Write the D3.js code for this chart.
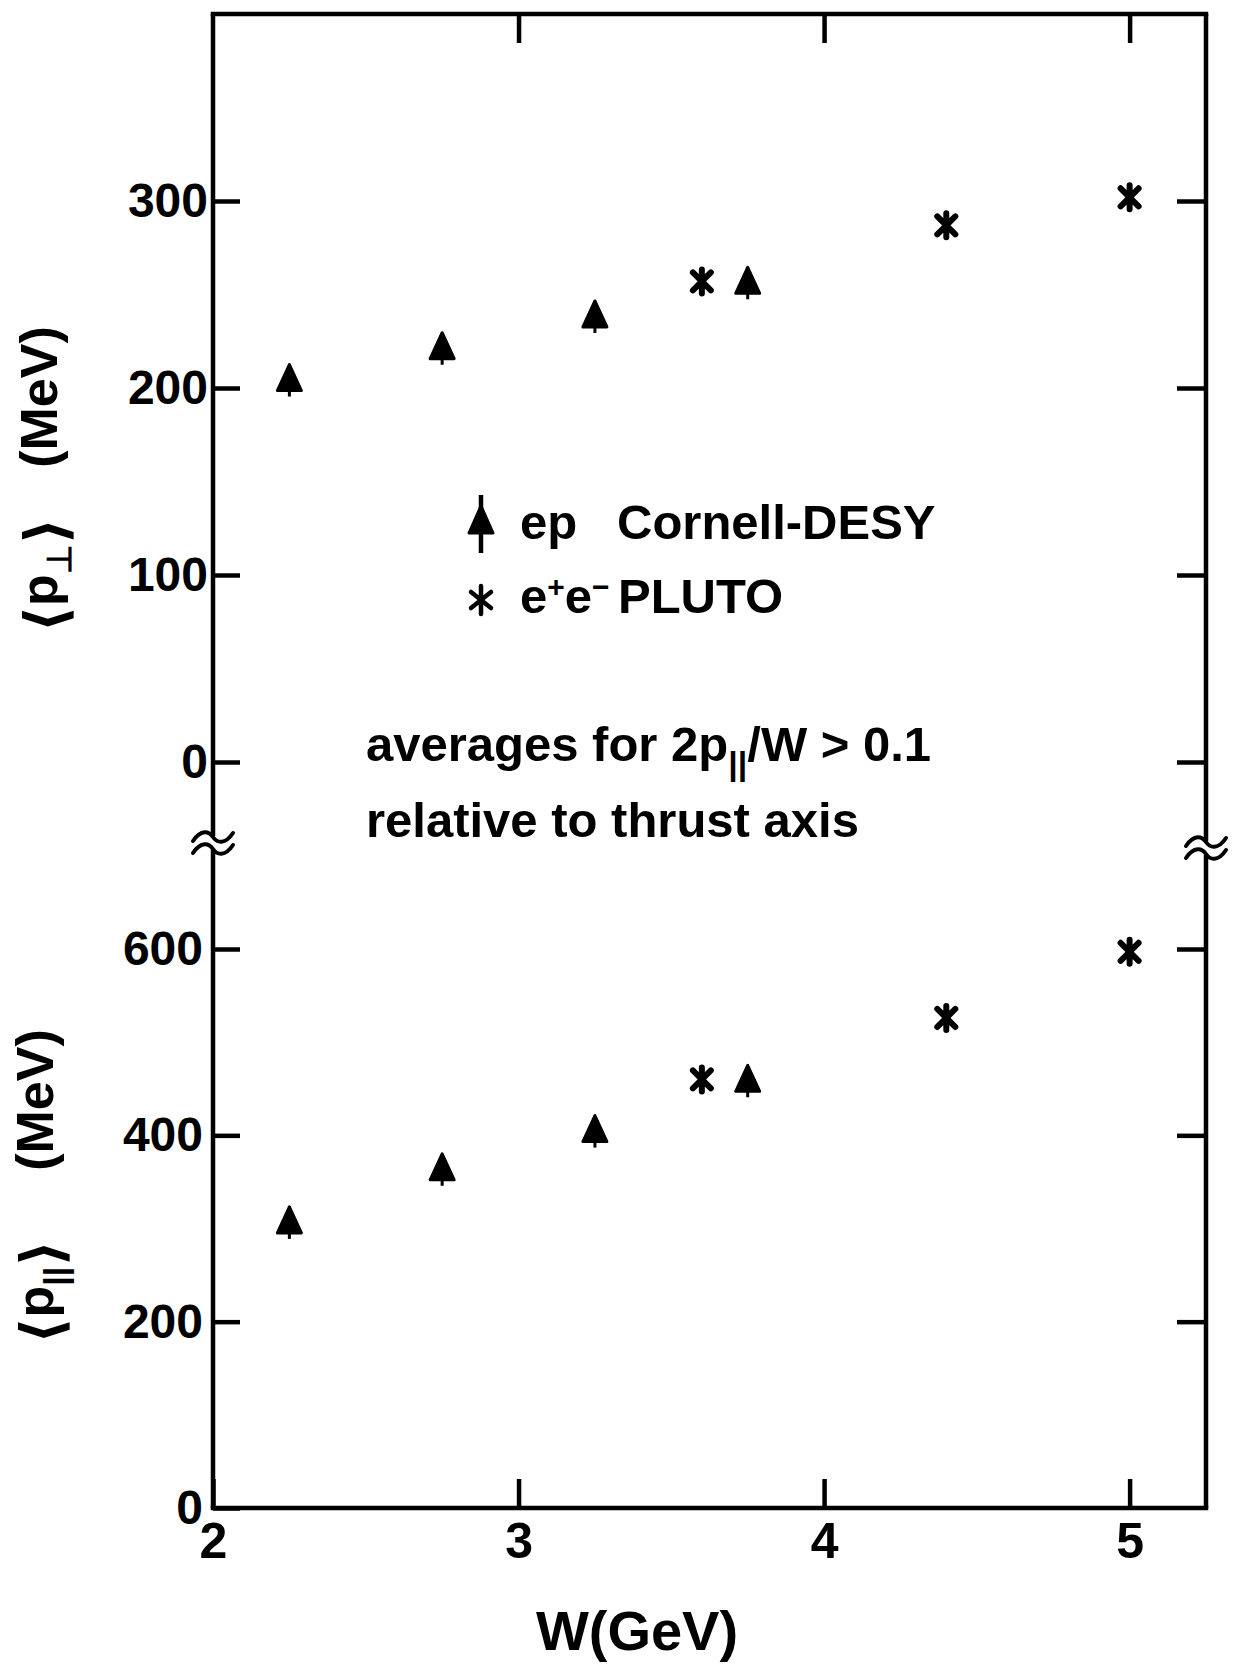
<!DOCTYPE html>
<html>
<head>
<meta charset="utf-8">
<script src="https://cdn.jsdelivr.net/npm/d3@7"></script>
<style>
html,body{margin:0;padding:0;background:#fff;}
svg{display:block;}
text{font-family:"Liberation Sans",Arial,sans-serif;font-weight:bold;fill:#000;}
</style>
</head>
<body>
<div id="chart"></div>
<script>
// ---- data ----
const W_ep = [2.25, 2.75, 3.25, 3.75];
const pT_ep = [204, 221, 238, 256];
const pL_ep = [306, 363, 404, 458];
const W_pluto = [3.6, 4.4, 5.0];
const pT_pluto = [257, 287, 302];
const pL_pluto = [460, 526, 597];
const xTicks = [2, 3, 4, 5];
const xTicksTop = [3, 4, 5];
const yTicksUpper = [0, 100, 200, 300];
const yTicksLower = [0, 200, 400, 600];
const yTicksLowerMarks = [200, 400, 600];

const width = 1235, height = 1664;
const svg = d3.select("#chart").append("svg").attr("width", width).attr("height", height);

const x = d3.scaleLinear().domain([2, 5.25]).range([213, 1206]);
const yU = d3.scaleLinear().domain([0, 400]).range([762, 14]);
const yL = d3.scaleLinear().domain([0, 600]).range([1508, 949]);

const L = x.range()[0], R = x.range()[1], T = yU.range()[1], B = yL.range()[0];
const breakL = 843, breakR = 848;
const lw = 4.5;

// frame
const frame = svg.append("g").attr("fill", "none").attr("stroke", "#000").attr("stroke-width", lw).attr("stroke-linecap", "square");
frame.append("line").attr("x1", L).attr("x2", R).attr("y1", T).attr("y2", T);
frame.append("line").attr("x1", L).attr("x2", R).attr("y1", B).attr("y2", B);
frame.append("line").attr("x1", L).attr("x2", L).attr("y1", T).attr("y2", breakL - 7).attr("stroke-linecap", "butt");
frame.append("line").attr("x1", L).attr("x2", L).attr("y1", breakL + 7).attr("y2", B).attr("stroke-linecap", "butt");
frame.append("line").attr("x1", R).attr("x2", R).attr("y1", T).attr("y2", breakR - 7).attr("stroke-linecap", "butt");
frame.append("line").attr("x1", R).attr("x2", R).attr("y1", breakR + 7).attr("y2", B).attr("stroke-linecap", "butt");

// break symbols
function brk(cx, cy) {
  const g = svg.append("g").attr("transform", `translate(${cx},${cy})`).attr("fill", "none").attr("stroke", "#000").attr("stroke-width", 4).attr("stroke-linecap", "round");
  [-6, 6].forEach(dy => {
    g.append("path").attr("d", `M-20,${dy + 4} C-12,${dy - 8} -4,${dy - 6} 0,${dy} S12,${dy + 8} 20,${dy - 4}`);
  });
}
brk(L, breakL);
brk(R, breakR);

function styleAxis(g, fs) {
  g.select(".domain").remove();
  g.selectAll(".tick line").attr("stroke", "#000").attr("stroke-width", lw);
  g.selectAll(".tick text").attr("font-size", fs).attr("font-family", '"Liberation Sans",Arial,sans-serif').attr("font-weight", "bold").attr("fill", "#000");
}

// left axes
svg.append("g").attr("transform", `translate(${L},0)`)
  .call(d3.axisLeft(yU).tickValues(yTicksUpper).tickSize(-27).tickPadding(5).tickFormat(d3.format("d")))
  .call(g => styleAxis(g, 48));
svg.append("g").attr("transform", `translate(${L},0)`)
  .call(d3.axisLeft(yL).tickValues(yTicksLower).tickSize(-27).tickPadding(10).tickFormat(d3.format("d")))
  .call(g => styleAxis(g, 48));
// right axes
svg.append("g").attr("transform", `translate(${R},0)`)
  .call(d3.axisRight(yU).tickValues(yTicksUpper).tickSize(-29).tickFormat(""))
  .call(g => styleAxis(g, 48));
svg.append("g").attr("transform", `translate(${R},0)`)
  .call(d3.axisRight(yL).tickValues(yTicksLowerMarks).tickSize(-29).tickFormat(""))
  .call(g => styleAxis(g, 48));
// top axis
svg.append("g").attr("transform", `translate(0,${T})`)
  .call(d3.axisTop(x).tickValues(xTicksTop).tickSize(-29).tickFormat(""))
  .call(g => styleAxis(g, 48));
// bottom axis
svg.append("g").attr("transform", `translate(0,${B})`)
  .call(d3.axisBottom(x).tickValues(xTicks).tickSize(-29).tickPadding(14).tickFormat(d3.format("d")))
  .call(g => styleAxis(g, 50));

// markers
const triPath = "M0,-16 L12,10 L-12,10 Z";
function triangle(g) {
  g.append("path").attr("d", triPath).attr("fill", "#000").attr("stroke", "#000").attr("stroke-width", 3).attr("stroke-linejoin", "round");
  g.append("line").attr("x1", 0).attr("x2", 0).attr("y1", 10).attr("y2", 16).attr("stroke", "#000").attr("stroke-width", 3);
}
const starPath = "M-9,-9L9,9M-9,9L9,-9M0,-12L0,-5M0,5L0,12";
function star(g) {
  g.append("path").attr("d", starPath).attr("fill", "none").attr("stroke", "#000").attr("stroke-width", 6).attr("stroke-linecap", "round");
}

function plotSeries(ws, vs, yS, fn) {
  svg.append("g").selectAll("g").data(ws.map((w, i) => [w, vs[i]])).join("g")
    .attr("transform", d => `translate(${x(d[0])},${yS(d[1])})`)
    .each(function () { fn(d3.select(this)); });
}
plotSeries(W_ep, pT_ep, yU, triangle);
plotSeries(W_pluto, pT_pluto, yU, star);
plotSeries(W_ep, pL_ep, yL, triangle);
plotSeries(W_pluto, pL_pluto, yL, star);

// legend
const lg1 = svg.append("g").attr("transform", "translate(481,520)");
lg1.append("line").attr("x1", 0).attr("x2", 0).attr("y1", -25).attr("y2", 33).attr("stroke", "#000").attr("stroke-width", 4.5);
lg1.append("path").attr("d", "M0,-14 L12,13 L-12,13 Z").attr("fill", "#000").attr("stroke", "#000").attr("stroke-width", 3).attr("stroke-linejoin", "round");
const lg2 = svg.append("g").attr("transform", "translate(481,600)");
lg2.append("path").attr("d", "M0,-14L0,14M-10,-8L10,8M-10,8L10,-8").attr("fill", "none").attr("stroke", "#000").attr("stroke-width", 4.5).attr("stroke-linecap", "round");

const fsT = 49;
svg.append("text").attr("x", 520).attr("y", 539).attr("font-size", fsT).text("ep");
svg.append("text").attr("x", 617).attr("y", 539).attr("font-size", fsT).text("Cornell-DESY");
const ee = svg.append("text").attr("x", 520).attr("y", 613).attr("font-size", fsT);
ee.append("tspan").text("e");
ee.append("tspan").attr("font-size", 30).attr("dy", -16).text("+");
ee.append("tspan").attr("dy", 16).text("e");
ee.append("tspan").attr("font-size", 30).attr("dy", -16).text("\u2212");
svg.append("text").attr("x", 618).attr("y", 613).attr("font-size", fsT).text("PLUTO");

// annotation
const a1 = svg.append("text").attr("x", 366).attr("y", 761).attr("font-size", fsT);
a1.append("tspan").text("averages for 2p");
a1.append("tspan").attr("font-size", 34).attr("dy", 14).text("||");
a1.append("tspan").attr("dy", -14).text("/W > 0.1");
svg.append("text").attr("x", 366).attr("y", 837).attr("font-size", fsT).text("relative to thrust axis");

// axis titles
svg.append("text").attr("x", 637).attr("y", 1650).attr("font-size", 56).attr("text-anchor", "middle").text("W(GeV)");

function yTitle(cx, cyMeV, cyP, sub) {
  svg.append("text").attr("transform", `translate(${cx},${cyMeV}) rotate(-90)`).attr("font-size", 52).attr("text-anchor", "middle").text("(MeV)");
  const t = svg.append("text").attr("transform", `translate(${cx},${cyP}) rotate(-90)`).attr("font-size", 52).attr("text-anchor", "middle");
  t.append("tspan").attr("font-family", '"DejaVu Sans",sans-serif').attr("font-weight", "bold").attr("font-size", 58).attr("dy", 9).text("\u27E8");
  t.append("tspan").attr("dy", -9).text("p");
  t.append("tspan").attr("font-size", 34).attr("dy", 14).text(sub);
  t.append("tspan").attr("dy", -5).attr("font-family", '"DejaVu Sans",sans-serif').attr("font-weight", "bold").attr("font-size", 58).text("\u27E9");
}
yTitle(57, 397, 575, "\u22A5");
yTitle(53, 1100, 1292, "||");
</script>
</body>
</html>
